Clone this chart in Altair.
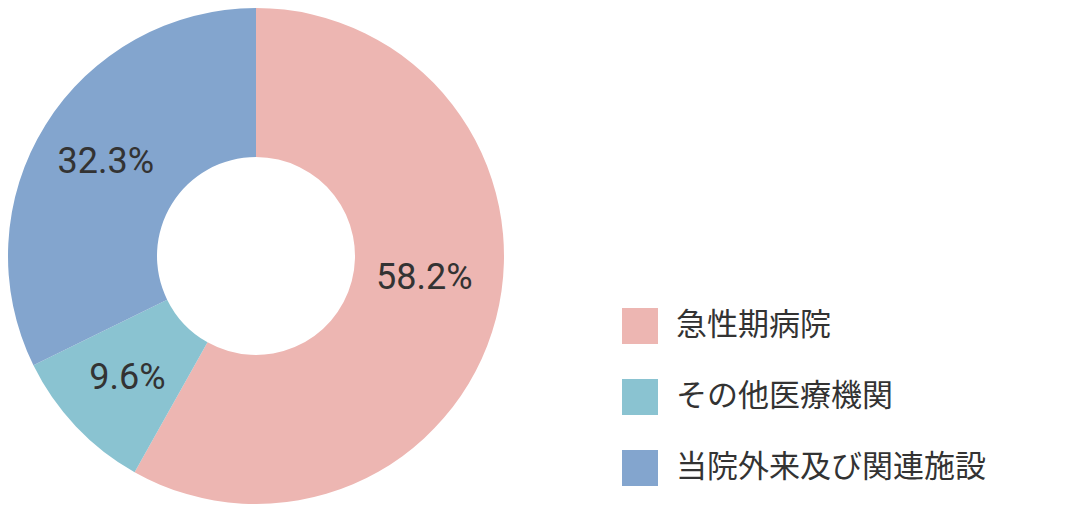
import altair as alt
import pandas as pd

categories = ["急性期病院", "その他医療機関", "当院外来及び関連施設"]
values = [58.2, 9.6, 32.3]
labels = ["58.2%", "9.6%", "32.3%"]
order = [0, 1, 2]
colors = ["#EDB6B2", "#8AC3D1", "#83A5CE"]

df = pd.DataFrame({"category": categories, "value": values, "label": labels, "idx": order})
total = float(sum(values))

FONT = "Noto Sans CJK JP"
NUMFONT = "Roboto"

arc = alt.Chart(df).mark_arc(innerRadius=99, outerRadius=248).encode(
    theta=alt.Theta("value:Q", stack=True),
    order=alt.Order("idx:Q", sort="ascending"),
    color=alt.Color(
        "category:N",
        scale=alt.Scale(domain=categories, range=colors),
        sort=categories,
        legend=alt.Legend(
            title=None,
            orient="none",
            legendX=614,
            legendY=300,
            symbolType="square",
            symbolSize=1296,
            symbolStrokeWidth=0,
            labelFont=FONT,
            labelFontSize=31,
            labelColor="#333333",
            labelOffset=18,
            rowPadding=35,
            padding=0,
            labelLimit=500,
        ),
    ),
)

stacked = alt.Chart(df).transform_window(
    cum="sum(value)", sort=[alt.SortField("idx", order="ascending")]
).transform_calculate(
    mid="datum.cum - datum.value / 2"
)

tscale = alt.Scale(domain=[0, total])

text = stacked.transform_filter(alt.datum.idx != 0).mark_text(
    radius=177, fontSize=36, font=NUMFONT, color="#333333"
).encode(theta=alt.Theta("mid:Q", stack=None, scale=tscale), text="label:N")

text_pink = stacked.transform_filter(alt.datum.idx == 0).mark_text(
    radius=174, fontSize=36, font=NUMFONT, color="#333333", dy=-22
).encode(theta=alt.Theta("mid:Q", stack=None, scale=tscale), text="label:N")

chart = alt.layer(arc, text, text_pink).resolve_scale(theta="independent").properties(
    width=496, height=496, padding=0
).configure_view(stroke=None)

chart.save("out.html", embed_options={"renderer": "svg", "actions": False})
